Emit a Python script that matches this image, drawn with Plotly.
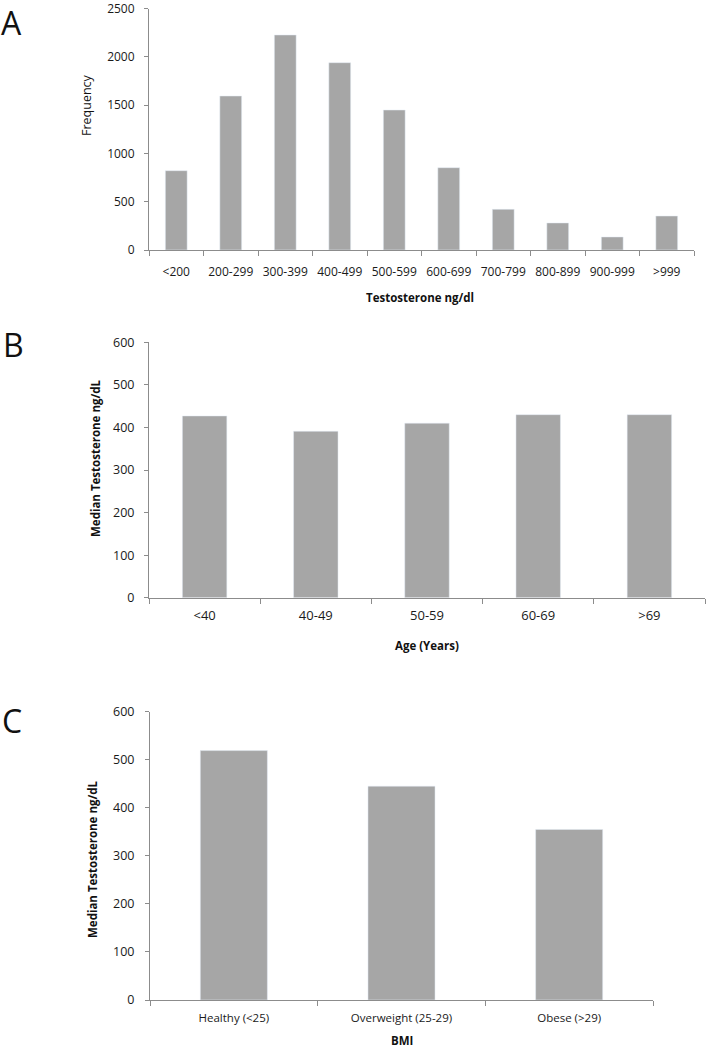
import plotly.graph_objects as go

# Panel A data
testo_bins = ["<200", "200-299", "300-399", "400-499", "500-599", "600-699",
              "700-799", "800-899", "900-999", ">999"]
testo_freq = [821, 1594, 2226, 1939, 1449, 852, 421, 280, 135, 352]

# Panel B data
age_groups = ["<40", "40-49", "50-59", "60-69", ">69"]
age_median = [427, 391, 410, 430, 430]

# Panel C data
bmi_groups = ["Healthy (<25)", "Overweight (25-29)", "Obese (>29)"]
bmi_median = [519, 445, 355]

W, H = 706, 1050
BAR = "#a6a6a6"
AX = "#8c8c8c"
FONT = "Open Sans"

def px_x(v):
    return v / W

def px_y(v):
    return 1 - v / H

fig = go.Figure()
fig.add_trace(go.Bar(x=testo_bins, y=testo_freq, marker_color=BAR, width=0.4,
                     xaxis="x", yaxis="y", showlegend=False))
fig.add_trace(go.Bar(x=age_groups, y=age_median, marker_color=BAR, width=0.4,
                     xaxis="x2", yaxis="y2", showlegend=False))
fig.add_trace(go.Bar(x=bmi_groups, y=bmi_median, marker_color=BAR, width=0.4,
                     xaxis="x3", yaxis="y3", showlegend=False))

def xax(domain, anchor, size, standoff):
    return dict(domain=domain, anchor=anchor, type="category", showline=True,
                linecolor=AX, linewidth=1, ticks="outside", tickson="boundaries",
                ticklen=5, tickcolor=AX, showgrid=False, zeroline=False,
                automargin=False, ticklabelstandoff=standoff,
                ticklabeloverflow="allow",
                tickfont=dict(family=FONT, size=size, color="#1a1a1a"),
                fixedrange=True)

def yax(domain, anchor, rng, dtick, size, standoff):
    return dict(domain=domain, anchor=anchor, range=rng, dtick=dtick, showline=True,
                linecolor=AX, linewidth=1, ticks="outside", ticklen=4,
                tickcolor=AX, showgrid=False, zeroline=False, automargin=False,
                ticklabeloverflow="allow",
                tickfont=dict(family=FONT, size=size, color="#1a1a1a"),
                ticklabelstandoff=standoff, fixedrange=True)

fig.update_layout(
    width=W, height=H,
    margin=dict(l=0, r=0, t=0, b=0, autoexpand=False),
    paper_bgcolor="white", plot_bgcolor="white",
    xaxis=xax([px_x(149), px_x(694)], "y", 12, 11),
    yaxis=yax([px_y(250), px_y(8.5)], "x", [0, 2500], 500, 12, 7),
    xaxis2=xax([px_x(149), px_x(705)], "y2", 13, 6),
    yaxis2=yax([px_y(597.7), px_y(342.3)], "x2", [0, 600], 100, 12.5, 7),
    xaxis3=xax([px_x(150), px_x(653)], "y3", 11.5, 7),
    yaxis3=yax([px_y(1000), px_y(711.7)], "x3", [0, 600], 100, 12.5, 8),
    bargap=0.6,
)

def ann(text, x, y, size, bold=False, angle=0, family=FONT, yanchor="middle"):
    t = f"<b>{text}</b>" if bold else text
    fig.add_annotation(text=t, x=px_x(x), y=px_y(y), xref="paper", yref="paper",
                       showarrow=False, textangle=angle, xanchor="center",
                       yanchor=yanchor, borderpad=0,
                       font=dict(family=family, size=size, color="#111"))

# Panel letters
ann("A", 11, 0, 32, yanchor="top")
ann("B", 13, 345, 32)
ann("C", 12, 720, 32)

# Axis titles
ann("Frequency", 87, 105, 12.5, angle=-90)
ann("Testosterone ng/dl", 420, 297, 11.5, bold=True)
ann("Median Testosterone ng/dL", 95, 458, 11.5, bold=True, angle=-90)
ann("Age (Years)", 427, 645, 11.5, bold=True)
ann("Median Testosterone ng/dL", 92, 860, 11.5, bold=True, angle=-90)
ann("BMI", 402, 1040, 11.5, bold=True)

fig.write_html("out.html", config={"displayModeBar": False, "staticPlot": True},
               post_script="document.body.style.margin='0px';document.body.style.overflow='hidden';")
